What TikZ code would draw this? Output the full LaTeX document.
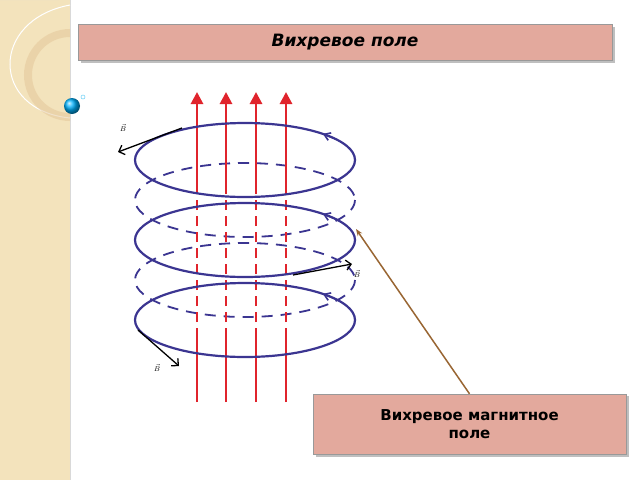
\documentclass[tikz,border=0pt]{standalone}
\usepackage{fontspec}
\setmainfont{DejaVu Sans}
\usetikzlibrary{arrows.meta}
\definecolor{pinkbox}{HTML}{E3A99D}
\definecolor{beige}{HTML}{F3E3BC}
\definecolor{ring}{HTML}{3B3591}
\definecolor{redl}{HTML}{E0242C}
\tikzset{
 box/.style={draw=black!40,fill=pinkbox,minimum height=36pt},
 solidring/.style={draw=ring,line width=2.2pt},
 dashring/.style={draw=ring,line width=1.8pt,dash pattern=on 11pt off 8pt},
 field/.style={draw=redl,line width=2.8pt},
 bvec/.style={draw=black,line width=1.3pt,-{Straight Barb[length=5pt]}},
 ringarrow/.style={draw=ring,line width=1.6pt,-{Straight Barb[length=6pt,width=8pt]}},
}
\begin{document}
\begin{tikzpicture}[x=1pt,y=-1pt]
\useasboundingbox (0,0) rectangle (640,480);
\fill[white] (0,0) rectangle (640,480);
\fill[beige] (0,0) rectangle (70,480);
\draw[black!15] (70,0) -- (70,480);
\begin{scope}
\clip (0,0) rectangle (70,480);
\fill[black!12,opacity=0.6] (58,0) arc (0:-90:48 and 58) -- (0,0) -- cycle;
\draw[white,line width=1pt] (70,5) .. controls (-10,20) and (-10,110) .. (70,118);
\draw[beige!70!brown,line width=8pt,opacity=0.5] (70,75) circle (42);
\end{scope}
\shade[ball color=cyan!70!blue] (72,106) circle (8);
\draw[cyan!60,line width=0.5pt] (83,97) circle (2);
% title
\fill[black!25] (81,27) rectangle (615,63);
\node[box,minimum width=534pt,font=\bfseries\itshape\fontsize{17}{19}\selectfont] (title) at (345,42) {Вихревое поле};
% dashed rings
\draw[dashring] (245,200) ellipse (110 and 37);
\draw[dashring] (245,280) ellipse (110 and 37);
% field lines
\foreach \x/\n in {197/a,226/b,256/c,286/d}{
  \coordinate (top\n) at (\x,92);
  \coordinate (bot\n) at (\x,402);
  \draw[field] (\x,402) -- (\x,338);
  \draw[field,dash pattern=on 10pt off 6pt] (\x,338) -- (\x,193);
  \draw[field,-{Triangle[length=12pt,width=12pt]}] (\x,193) -- (top\n);
}
% solid rings
\foreach \y in {160,240,320}{
  \draw[solidring] (245,\y) ellipse (110 and 37);
  \draw[ringarrow] ({245+110*cos(35)},{\y-37*sin(35)}) -- ({245+110*cos(45)},{\y-37*sin(45)});
}
% B vectors
\node[font=\scriptsize] (b1) at (123,128) {$\vec B$};
\coordinate (b1s) at (182,128); \coordinate (b1e) at (118,152);
\draw[bvec] (b1s) -- (b1e);
\node[font=\scriptsize] (b2) at (357,274) {$\vec B$};
\coordinate (b2s) at (293,275); \coordinate (b2e) at (352,264);
\draw[bvec] (b2s) -- (b2e);
\node[font=\scriptsize] (b3) at (157,368) {$\vec B$};
\coordinate (b3s) at (138,330); \coordinate (b3e) at (179,366);
\draw[bvec] (b3s) -- (b3e);
% bottom label
\fill[black!25] (316,396) rectangle (629,457);
\node[box,minimum width=313pt,minimum height=60pt,align=center,font=\bfseries\fontsize{15}{18}\selectfont] (lab) at (469.5,424) {Вихревое магнитное\\поле};
\coordinate (tip) at (356,229);
\draw[draw=brown!80!black,line width=1.5pt,-{Stealth[length=7pt]}] (lab.north) -- (tip);
\end{tikzpicture}
\end{document}
